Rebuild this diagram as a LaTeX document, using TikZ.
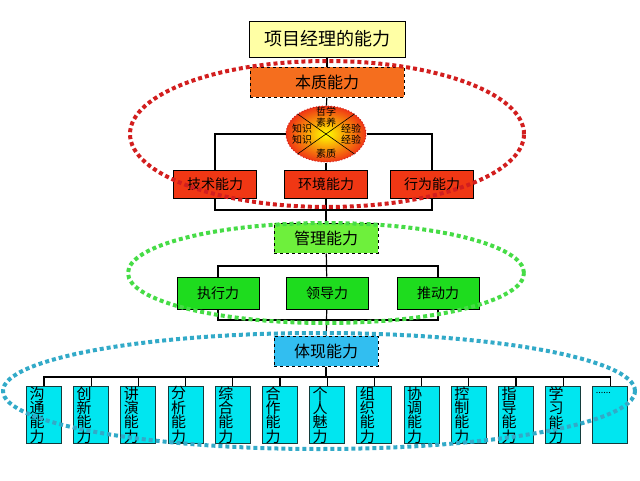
\documentclass[tikz,border=0pt]{standalone}
\usepackage{fontspec}
\setmainfont{Noto Sans CJK SC}
\usepackage{xcolor}
\definecolor{titleyellow}{RGB}{255,255,165}
\definecolor{coreorange}{RGB}{245,110,30}
\definecolor{rowred}{RGB}{240,55,20}
\definecolor{mgmtgreen}{RGB}{110,240,60}
\definecolor{rowgreen}{RGB}{30,220,30}
\definecolor{showblue}{RGB}{50,190,240}
\definecolor{vcyan}{RGB}{0,230,240}
\definecolor{vborder}{RGB}{20,60,60}
\definecolor{ringred}{RGB}{210,30,30}
\definecolor{ringgreen}{RGB}{70,220,70}
\definecolor{ringblue}{RGB}{50,170,200}
\usepackage{tikz}
\usetikzlibrary{positioning, shapes.geometric, calc}

\begin{document}
\begin{tikzpicture}[x=1pt, y=-1pt,
    block/.style={rectangle, draw=black, line width=1pt, align=center, inner sep=0pt,
                  font=\fontsize{14}{16}\selectfont},
    titleblock/.style={block, fill=titleyellow, minimum width=156pt, minimum height=36pt,
                       font=\fontsize{18}{20}\selectfont},
    dblock/.style={block, dashed, minimum width=104pt, minimum height=30pt,
                   font=\fontsize{16}{18}\selectfont},
    rblock/.style={block, fill=rowred, minimum width=83pt, minimum height=28pt},
    gblock/.style={block, fill=rowgreen, minimum width=82pt, minimum height=32pt},
    vblock/.style={block, fill=vcyan, draw=vborder, minimum width=35pt, minimum height=57pt,
                   anchor=north, align=left, text width=29pt, inner xsep=3pt,
                   font=\fontsize{15}{14.4}\selectfont},
    spheretxt/.style={font=\fontsize{10}{11}\selectfont, align=center, inner sep=0pt},
    ring/.style={line width=4pt, dash pattern=on 4pt off 3pt},
    link/.style={line width=1.2pt, black},
  ]
    \useasboundingbox (0,0) rectangle (640,480);

    % --- top ---
    \node[titleblock]                  (title)    at (327,39)  {项目经理的能力};
    \node[dblock, fill=coreorange,
          minimum width=154pt]         (benzhi)   at (327,82)  {本质能力};

    % --- core sphere ---
    \node[ellipse, minimum width=80pt, minimum height=56pt, inner sep=0pt,
          draw=ringred, dotted, line width=1pt,
          shading=radial, inner color=yellow, outer color=rowred]
                                       (sphere)   at (326,134) {};
    \draw[black, line width=0.6pt] (sphere.north west) -- (sphere.south east);
    \draw[black, line width=0.6pt] (sphere.north east) -- (sphere.south west);
    \node[spheretxt] (zhexue) at (326,117) {哲学\\素养};
    \node[spheretxt] (zhishi) at (302,134) {知识\\知识};
    \node[spheretxt] (jingyan) at (351,134) {经验\\经验};
    \node[spheretxt] (suzhi)  at (326,154) {素质};

    % --- row 1 ---
    \node[rblock] (jishu)    at (215,184) {技术能力};
    \node[rblock] (huanjing) at (326,184) {环境能力};
    \node[rblock] (xingwei)  at (432,184) {行为能力};

    % --- management ---
    \node[dblock, fill=mgmtgreen] (guanli) at (326,238) {管理能力};
    \node[gblock] (zhixing) at (218,293) {执行力};
    \node[gblock] (lingdao) at (327,293) {领导力};
    \node[gblock] (tuidong) at (438,293) {推动力};

    % --- embodiment ---
    \node[dblock, fill=showblue] (tixian) at (326,351) {体现能力};
    \foreach \t [count=\i] in {{沟\\通\\能\\力}, {创\\新\\能\\力}, {讲\\演\\能\\力},
        {分\\析\\能\\力}, {综\\合\\能\\力}, {合\\作\\能\\力}, {个\\人\\魅\\力},
        {组\\织\\能\\力}, {协\\调\\能\\力}, {控\\制\\能\\力}, {指\\导\\能\\力},
        {学\\习\\能\\力}, {{\fontsize{9}{10}\selectfont ......}\\~\\~\\~}}
      \node[vblock] (a\i) at ({44+47.2*(\i-1)},386) {\t};

    % --- connectors ---
    \coordinate (c1) at (326,210);
    \coordinate (c2) at (326,266);
    \coordinate (c3) at (326,320);
    \coordinate (c4) at (326,377);
    \draw[link] (title) -- (benzhi);
    \draw[link] (benzhi) -- (sphere);
    \draw[link] (jishu.north) |- (sphere.west);
    \draw[link] (xingwei.north) |- (sphere.east);
    \draw[link] (sphere) -- (huanjing);
    \draw[link] (jishu.south) |- (c1) -| (xingwei.south);
    \draw[link] (huanjing) -- (guanli);
    \draw[link] (zhixing.north) |- (c2) -| (tuidong.north);
    \draw[link] (guanli) -- (lingdao);
    \draw[link] (zhixing.south) |- (c3) -| (tuidong.south);
    \draw[link] (lingdao) -- (tixian);
    \draw[link] (a1.north) |- (c4) -| (a13.north);
    \draw[link] (tixian) -- (c4);
    \foreach \i in {2,...,12}
      \draw[link] (a\i.north) -- (a\i.north |- c4);

    % --- dotted rings ---
    \draw[ring, ringred]   (327,134) ellipse [x radius=197pt, y radius=73pt];
    \draw[ring, ringgreen] (326,273) ellipse [x radius=198pt, y radius=50pt];
    \draw[ring, ringblue]  (319,391) ellipse [x radius=316pt, y radius=58pt];
  \end{tikzpicture}
\end{document}
